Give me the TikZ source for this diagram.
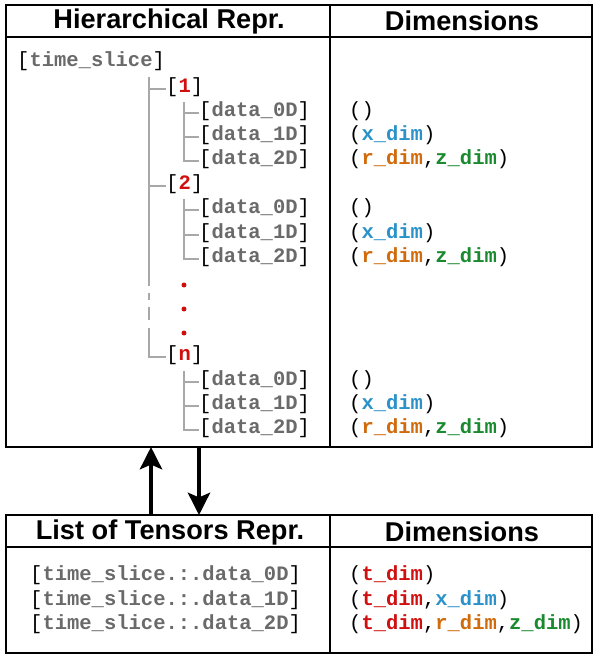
\documentclass[tikz,border=0pt]{standalone}
\usepackage{fontspec}
\setmainfont{Liberation Sans}
\setmonofont{Liberation Mono}
\usetikzlibrary{arrows.meta}
\definecolor{keygray}{HTML}{6A6A6A}
\definecolor{treegray}{HTML}{A8A8A8}
\definecolor{idxred}{HTML}{D01010}
\definecolor{xblue}{HTML}{2A92C8}
\definecolor{rorange}{HTML}{D06A0A}
\definecolor{zgreen}{HTML}{1A8A2E}
\tikzstyle{box} = [draw, line width=1.5pt]
\tikzstyle{head} = [font=\fontsize{23.2}{26}\selectfont\bfseries]
\tikzstyle{code} = [font=\fontsize{17.5}{20}\selectfont\ttfamily\bfseries, anchor=west, inner sep=0pt, text=keygray]
\tikzstyle{tree} = [draw=treegray, line width=1.6pt]
\tikzstyle{dot} = [circle, fill=idxred, inner sep=1.5pt]
\tikzstyle{arr} = [line width=3.2pt, -{Stealth[length=19pt,width=19pt,inset=4pt]}]
\newcommand{\key}[1]{{\mdseries\color{black}[}#1{\mdseries\color{black}]}}
\newcommand{\dims}[1]{{\mdseries\color{black}(}#1{\mdseries\color{black})}}
\newcommand{\comma}{{\mdseries\color{black},}}
\newcommand{\idx}[1]{\textcolor{idxred}{#1}}
\newcommand{\tdim}{\textcolor{idxred}{t\_dim}}
\newcommand{\xdim}{\textcolor{xblue}{x\_dim}}
\newcommand{\rdim}{\textcolor{rorange}{r\_dim}}
\newcommand{\zdim}{\textcolor{zgreen}{z\_dim}}

\begin{document}
\begin{tikzpicture}[x=0.03cm,y=-0.03cm]
\useasboundingbox (0,0) rectangle (600,659);
% tables
\draw [box] (6,5) rectangle (592,447);
\draw [box] (6,37) -- (592,37);
\draw [box] (330,5) -- (330,447);
\draw [box] (6,515) rectangle (592,653);
\draw [box] (6,547) -- (592,547);
\draw [box] (330,515) -- (330,653);
\node[head] (hier) at (169,21) {Hierarchical Repr.};
\node[head] (dimtop) at (462,21) {Dimensions};
\node[head] (list) at (170,532) {List of Tensors Repr.};
\node[head] (dimbot) at (462,532) {Dimensions};

% hierarchy
\node[code] (ts) at (17,61) {\key{time\_slice}};
\node[code] (n1) at (166,87) {\key{\idx{1}}};
\node[code] (d10) at (199,111) {\key{data\_0D}};
\node[code] (d11) at (199,135) {\key{data\_1D}};
\node[code] (d12) at (199,159) {\key{data\_2D}};
\node[code] (n2) at (166,184) {\key{\idx{2}}};
\node[code] (d20) at (199,208) {\key{data\_0D}};
\node[code] (d21) at (199,233) {\key{data\_1D}};
\node[code] (d22) at (199,257) {\key{data\_2D}};
\node[dot] (v1) at (184,285) {};
\node[dot] (v2) at (184,309) {};
\node[dot] (v3) at (184,333) {};
\node[code] (nn) at (166,355) {\key{\idx{n}}};
\node[code] (d30) at (199,380) {\key{data\_0D}};
\node[code] (d31) at (199,404) {\key{data\_1D}};
\node[code] (d32) at (199,428) {\key{data\_2D}};

% dimensions
\node[code] (e10) at (349,111) {\dims{}};
\node[code] (e11) at (349,135) {\dims{\xdim}};
\node[code] (e12) at (349,159) {\dims{\rdim\comma\zdim}};
\node[code] (e20) at (349,208) {\dims{}};
\node[code] (e21) at (349,233) {\dims{\xdim}};
\node[code] (e22) at (349,257) {\dims{\rdim\comma\zdim}};
\node[code] (e30) at (349,380) {\dims{}};
\node[code] (e31) at (349,404) {\dims{\xdim}};
\node[code] (e32) at (349,428) {\dims{\rdim\comma\zdim}};

% tree lines
\draw [tree] (149,77) |- ([yshift=-2pt]n1.west);
\draw [tree] (149,77) |- ([yshift=-2pt]n2.west);
\draw [tree] (149,184) -- (149,286);
\draw [tree] (149,293) -- (149,300);
\draw [tree] (149,307) -- (149,320);
\draw [tree] (149,328) |- ([yshift=-2pt]nn.west);
\draw [tree] (184,102) |- ([yshift=-2pt]d10.west);
\draw [tree] (184,102) |- ([yshift=-2pt]d11.west);
\draw [tree] (184,102) |- ([yshift=-2pt]d12.west);
\draw [tree] (184,199) |- ([yshift=-2pt]d20.west);
\draw [tree] (184,199) |- ([yshift=-2pt]d21.west);
\draw [tree] (184,199) |- ([yshift=-2pt]d22.west);
\draw [tree] (184,371) |- ([yshift=-2pt]d30.west);
\draw [tree] (184,371) |- ([yshift=-2pt]d31.west);
\draw [tree] (184,371) |- ([yshift=-2pt]d32.west);

% list of tensors
\node[code] (l0) at (30,575) {\key{time\_slice.:.data\_0D}};
\node[code] (l1) at (30,600) {\key{time\_slice.:.data\_1D}};
\node[code] (l2) at (30,624) {\key{time\_slice.:.data\_2D}};
\node[code] (m0) at (349,575) {\dims{\tdim}};
\node[code] (m1) at (349,600) {\dims{\tdim\comma\xdim}};
\node[code] (m2) at (349,624) {\dims{\tdim\comma\rdim\comma\zdim}};

% arrows
\coordinate (upfrom) at (151,515);
\coordinate (upto) at (151,447);
\coordinate (downfrom) at (199,447);
\coordinate (downto) at (199,515);
\draw [arr] (upfrom) -- (upto);
\draw [arr] (downfrom) -- (downto);
\end{tikzpicture}
\end{document}
